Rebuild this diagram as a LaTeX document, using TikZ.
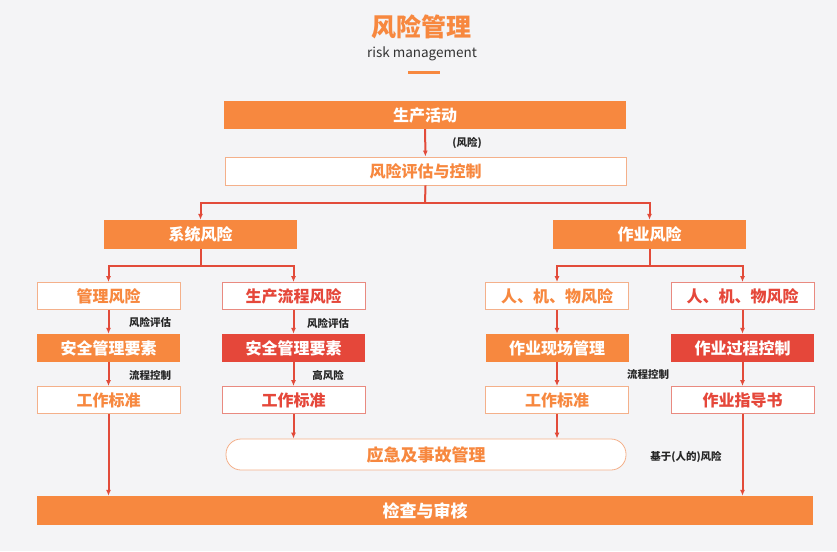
\documentclass[tikz,border=0pt]{standalone}
\usepackage{fontspec}
\setmainfont{Noto Sans CJK SC}
\usetikzlibrary{arrows.meta}

\definecolor{bgc}{HTML}{F4F4F6}
\definecolor{orng}{HTML}{F7883F}
\definecolor{rd}{HTML}{E5473A}
\definecolor{lorng}{HTML}{F4B08A}
\definecolor{lrd}{HTML}{E98A80}
\definecolor{lnk}{HTML}{E24B3A}

\tikzset{
  fullbox/.style={fill=orng, text=white, font=\bfseries\fontsize{16}{16}\selectfont, inner sep=0pt},
  redbox/.style={fill=rd, text=white, font=\bfseries\fontsize{16}{16}\selectfont, inner sep=0pt, minimum width=143, minimum height=28},
  obox/.style={fill=white, draw=lorng, line width=0.8pt, text=orng, font=\bfseries\fontsize{16}{16}\selectfont, inner sep=0pt, minimum width=143, minimum height=27},
  rbox/.style={fill=white, draw=lrd, line width=0.8pt, text=rd, font=\bfseries\fontsize{16}{16}\selectfont, inner sep=0pt, minimum width=143, minimum height=27},
  colbox/.style={fullbox, minimum width=143, minimum height=28},
  note/.style={font=\bfseries\fontsize{10.5}{11}\selectfont, text=black!85},
  conn/.style={draw=lnk, line width=2pt, -{Latex[length=6pt,width=5pt]}},
  line/.style={draw=lnk, line width=2pt}
}

\begin{document}
\begin{tikzpicture}[x=1pt,y=-1pt]
\fill[bgc] (0,0) rectangle (837,551);
\useasboundingbox (0,0) rectangle (837,551);

% title
\node (title) at (421,27) [text=orng, font=\bfseries\fontsize{25}{25}\selectfont] {风险管理};
\node (subtitle) at (422,54) [text=black!80, font=\fontsize{13.5}{14}\selectfont] {risk management};
\draw[orng, line width=3pt] (408,72) -- (440,72);

% upper part
\node[fullbox, minimum width=402, minimum height=28] (prod) at (425,115) {生产活动};
\node[obox, minimum width=401, minimum height=28] (eval) at (425.5,171) {风险评估与控制};
\node[fullbox, minimum width=193, minimum height=29] (sys) at (200.5,234.5) {系统风险};
\node[fullbox, minimum width=193, minimum height=29] (job) at (649.5,234.5) {作业风险};
\node[note] (risk) at (467,143) {(风险)};

% columns
\node[obox] (m1) at (108.5,296) {管理风险};
\node[colbox] (m2) at (108.5,348) {安全管理要素};
\node[obox] (m3) at (108.5,400) {工作标准};

\node[rbox] (p1) at (293.5,296) {生产流程风险};
\node[redbox] (p2) at (293.5,348) {安全管理要素};
\node[rbox] (p3) at (293.5,400) {工作标准};

\node[obox] (s1) at (557,296) {人、机、物风险};
\node[colbox] (s2) at (557,348) {作业现场管理};
\node[obox] (s3) at (557,400) {工作标准};

\node[rbox] (w1) at (742.5,296) {人、机、物风险};
\node[redbox] (w2) at (742.5,348) {作业过程控制};
\node[rbox] (w3) at (742.5,400) {作业指导书};

% bottom part
\node[obox, minimum width=400, minimum height=31, rounded corners=15pt, font=\bfseries\fontsize{17}{17}\selectfont] (emerg) at (426,454.5) {应急及事故管理};
\node[fullbox, minimum width=776, minimum height=29, font=\bfseries\fontsize{17}{17}\selectfont] (check) at (425,510.5) {检查与审核};

% notes
\node[note] (n1) at (150,322) {风险评估};
\node[note] (n2) at (150,375) {流程控制};
\node[note] (n3) at (328,323) {风险评估};
\node[note] (n4) at (328,375) {高风险};
\node[note] (n5) at (648,374) {流程控制};
\node[note] (n6) at (686,457) {基于(人的)风险};

% connectors
\coordinate (split) at (425,203);
\coordinate (splitl) at (200.5,266);
\coordinate (splitr) at (649.5,266);
\draw[conn] (prod) -- (eval);
\draw[line] (eval.south) -- (split);
\draw[conn] (split) -| (sys.north);
\draw[conn] (split) -| (job.north);
\draw[line] (sys.south) -- (splitl);
\draw[conn] (splitl) -| (m1.north);
\draw[conn] (splitl) -| (p1.north);
\draw[line] (job.south) -- (splitr);
\draw[conn] (splitr) -| (s1.north);
\draw[conn] (splitr) -| (w1.north);

\foreach \c in {m,p,s,w}{
  \draw[conn] (\c1) -- (\c2);
  \draw[conn] (\c2) -- (\c3);
}
\draw[conn] (m3.south) -- (m3.south |- check.north);
\draw[conn] (p3.south) -- (p3.south |- emerg.north);
\draw[conn] (s3.south) -- (s3.south |- emerg.north);
\draw[conn] (w3.south) -- (w3.south |- check.north);
\end{tikzpicture}
\end{document}
